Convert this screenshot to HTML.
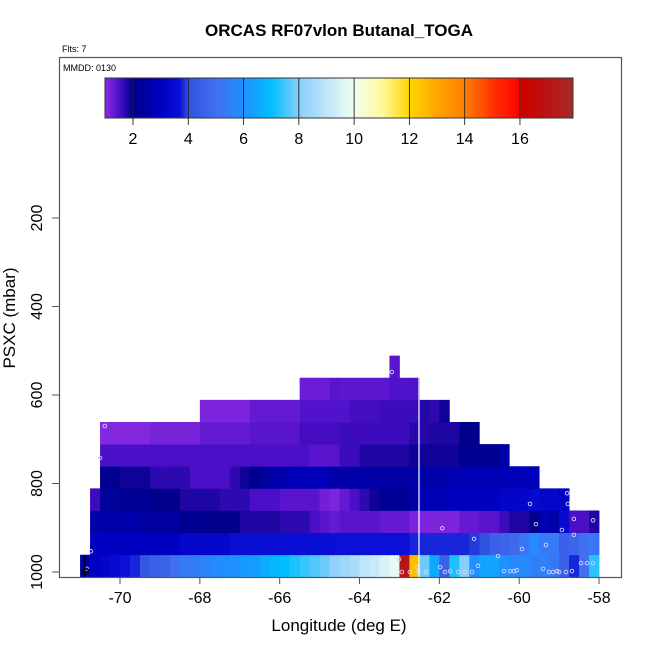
<!DOCTYPE html>
<html><head><meta charset="utf-8"><style>
body{margin:0;background:#fff;}
svg{display:block;font-family:"Liberation Sans",Arial,sans-serif;}
</style></head><body>
<svg id="chart" width="650" height="650" viewBox="0 0 650 650">
<rect width="650" height="650" fill="#fff"/>
<text x="339" y="36" text-anchor="middle" font-size="17" font-weight="bold">ORCAS RF07vlon Butanal_TOGA</text>
<text x="62" y="52" font-size="9">Flts: 7</text>
<g id="cells"></g>
<g id="pts"></g>
<line x1="419" y1="377" x2="419" y2="577" stroke="#fff" stroke-width="1.2"/>
<rect x="59.5" y="57.5" width="562" height="520" fill="none" stroke="#555" stroke-width="1.2"/>
<text x="63" y="71" font-size="9">MMDD: 0130</text>
<g id="cbar"></g>
<g id="axes"></g>
<text x="339" y="631" text-anchor="middle" font-size="17">Longitude (deg E)</text>
<text transform="translate(15,318) rotate(-90)" text-anchor="middle" font-size="17">PSXC (mbar)</text>
</svg>
<script>
const xTicks=[-70,-68,-66,-64,-62,-60,-58];
const yTicks=[200,400,600,800,1000];
const cbTicks=[2,4,6,8,10,12,14,16];
const cellStep=0.25;
const rowP=[986,936,886,836,786,736,686,636,586,536];
const rowStart=[-71,-70.75,-70.75,-70.75,-70.5,-70.5,-70.5,-68,-65.5,-63.25];
const rowVals=[
[2.5,3,3.2,3.5,3.7,3.8,4.2,4.5,4.6,5,5.3,5.4,5.6,5.8,5.9,6,6.2,6.3,6.6,6.8,7,7.2,7.4,7.6,7.8,8.2,8.4,8.6,9,9.2,9.5,9.8,17,12.5,7.8,6.5,4.5,7.2,8,6,6.4,6.4,6,5.8,5.8,5.5,5.6,5.2,4.5,3.8,5,7.3],
[3,3,3,3,3,3,3,3,3,3.3,3.3,3.3,3.3,3.3,3.6,3.6,3.6,3.6,3.6,3.6,3.6,3.6,3.6,3.6,3.7,3.7,3.7,3.7,3.7,3.7,3.7,3.7,3.8,3.8,3.8,3.8,3.8,3.8,3.9,4,4.5,4.6,4.8,5.2,5.8,5.3,5.3,4.5,4.7,5,5.2],
[2.6,2.6,2.6,2.6,2.6,2.4,2.4,2.4,2.4,2.1,2.1,2.1,2,2,2,1.8,1.8,1.8,1.8,1.7,1.7,1.7,1.5,1.4,1.3,1.4,1.4,1.4,1.4,1.3,1.3,1.3,1.1,1.1,1.1,1.1,1.1,1.3,1.3,1.4,1.4,1.6,1.8,1.8,2,2.8,2.5,3.5,1.5,1.5,1.8],
[1.6,2.3,2.3,2.2,2.2,2.2,2,2,2,1.8,1.8,1.8,1.8,1.7,1.7,1.7,1.5,1.5,1.5,1.4,1.4,1.4,1.4,1.2,1.1,1.3,1.5,1.7,1.9,2.1,2.2,2.2,2.5,2.8,2.8,2.8,3,3,3,3,3,3.2,3.2,3.2,3.4,3.3,3.3,3.1],
[2.1,2.1,1.9,1.9,1.9,1.7,1.7,1.7,1.7,1.5,1.5,1.5,1.5,1.7,1.9,2.1,2.3,2.6,2.6,2.9,2.9,2.9,2.9,2.5,2.5,2.5,2.5,2.5,2.5,2.5,2.5,2.5,2.6,2.6,2.6,2.8,2.8,2.8,2.8,2.8,2.8,2.9,2.9,2.9],
[1.5,1.5,1.5,1.5,1.5,1.5,1.5,1.5,1.5,1.5,1.5,1.5,1.5,1.5,1.5,1.5,1.5,1.5,1.5,1.5,1.5,1.4,1.4,1.4,1.6,1.6,1.8,1.8,1.8,1.8,1.8,1.9,1.9,1.9,1.9,1.9,2.1,2.1,2.1,2.1,2.6],
[1.05,1.05,1.05,1.05,1.05,1.15,1.15,1.15,1.15,1.15,1.3,1.3,1.3,1.3,1.3,1.4,1.4,1.4,1.4,1.4,1.55,1.55,1.55,1.55,1.6,1.6,1.6,1.6,1.6,1.6,1.6,1.75,1.75,1.8,1.8,1.8,2,2],
[1.1,1.1,1.1,1.1,1.1,1.3,1.3,1.3,1.3,1.3,1.45,1.45,1.45,1.45,1.45,1.55,1.55,1.55,1.6,1.6,1.6,1.6,1.75,1.7,1.9],
[1.25,1.25,1.25,1.4,1.35,1.35,1.35,1.35,1.35,1.45,1.45,1.45],
[1.4]
];
const ptLon=[-70.38,-70.5,-70.73,-70.83,-63.19,-63.01,-62.94,-62.74,-62.56,-62.53,-62.33,-61.93,-61.98,-61.86,-61.73,-61.53,-61.36,-61.18,-61.13,-61.03,-60.53,-60.38,-60.23,-60.13,-60.06,-59.93,-59.73,-59.58,-59.4,-59.33,-59.25,-59.15,-59.05,-59,-58.93,-58.83,-58.8,-58.78,-58.68,-58.63,-58.63,-58.45,-58.3,-58.15,-58.15];
const ptP=[670,742,953,993,548,971,1000,1000,989,1000,1000,901,989,1000,998,1000,1000,1000,925,986,964,998,998,998,996,948,846,892,993,939,1000,1000,998,1000,905,1000,822,846,998,880,916,980,980,883,980];

const stops=[[1,'#8a2be2'],[1.5,'#4b0fc8'],[2,'#00008b'],[3,'#0000c0'],[3.7,'#0a10d8'],[4,'#3050e0'],[5,'#4070f0'],[6,'#1e90ff'],[7,'#00bfff'],[8,'#87cefa'],[9,'#c0e4fa'],[10,'#f0fff0'],[11,'#fff8a0'],[12,'#ffd700'],[13,'#ffa500'],[14,'#ff7f00'],[15,'#ff3300'],[16,'#ff0000'],[16.1,'#cd0000'],[18,'#a52a2a']];
function hex(c){return [1,3,5].map(i=>parseInt(c.substr(i,2),16));}
function color(v){
  if(v<=stops[0][0])return stops[0][1];
  for(let i=1;i<stops.length;i++){if(v<=stops[i][0]){const a=stops[i-1],b=stops[i];const t=(v-a[0])/(b[0]-a[0]);const ca=hex(a[1]),cb=hex(b[1]);return 'rgb('+ca.map((x,k)=>Math.round(x+(cb[k]-x)*t)).join(',')+')';}}
  return stops[stops.length-1][1];
}
const X=lon=>120+(lon+70)*39.92;
const Y=p=>218+(p-200)*0.4425;
const CB=v=>133+(v-2)*27.64;
const NS='http://www.w3.org/2000/svg';
function mk(tag,attrs,parent){const e=document.createElementNS(NS,tag);for(const k in attrs)e.setAttribute(k,attrs[k]);parent.appendChild(e);return e;}

const cells=document.getElementById('cells');
rowVals.forEach((vals,r)=>{
  vals.forEach((v,i)=>{
    const x0=X(rowStart[r]+i*cellStep),x1=X(rowStart[r]+(i+1)*cellStep);
    const y0=Y(rowP[r]-25),y1=Y(rowP[r]+25);
    const c=mk('rect',{x:x0,y:y0,width:x1-x0+0.4,height:y1-y0+0.4,fill:color(v)},cells);
    
    
  });
});
const pts=document.getElementById('pts');
ptLon.forEach((lon,i)=>{
  const c=mk('circle',{cx:X(lon),cy:Y(ptP[i]),r:1.8,fill:'none',stroke:'#d8d0ff','stroke-width':0.9},pts);
  
  
});
const cb=document.getElementById('cbar');
for(let px=105;px<573;px++){
  const v=2+(px+0.5-133)/27.64;
  mk('rect',{x:px,y:78,width:1.2,height:40,fill:color(v)},cb);
}
mk('rect',{x:105,y:78,width:468,height:40,fill:'none',stroke:'#333','stroke-width':1},cb);
cbTicks.forEach(t=>{
  const x=CB(t);
  mk('line',{x1:x,y1:78,x2:x,y2:125,stroke:'#222','stroke-width':0.9},cb);
  const tx=mk('text',{x:x,y:144,'text-anchor':'middle','font-size':16},cb);
  tx.textContent=t;
  
  
});
const ax=document.getElementById('axes');
xTicks.forEach(t=>{
  const x=X(t);
  mk('line',{x1:x,y1:577,x2:x,y2:584,stroke:'#555','stroke-width':1},ax);
  const tx=mk('text',{x:x,y:603,'text-anchor':'middle','font-size':16},ax);
  tx.textContent=t;
  
  
});
yTicks.forEach(t=>{
  const y=Y(t);
  mk('line',{x1:52,y1:y,x2:59,y2:y,stroke:'#555','stroke-width':1},ax);
  const tx=mk('text',{x:0,y:0,'text-anchor':'middle','font-size':16,transform:'translate(42,'+y+') rotate(-90)'},ax);
  tx.textContent=t;
  
  
});
mk('path',{d:'M85,555 L85,576 M81,569 L85,576 L89,569',stroke:'#000','stroke-width':1.4,fill:'none'},ax);
</script>
</body></html>
